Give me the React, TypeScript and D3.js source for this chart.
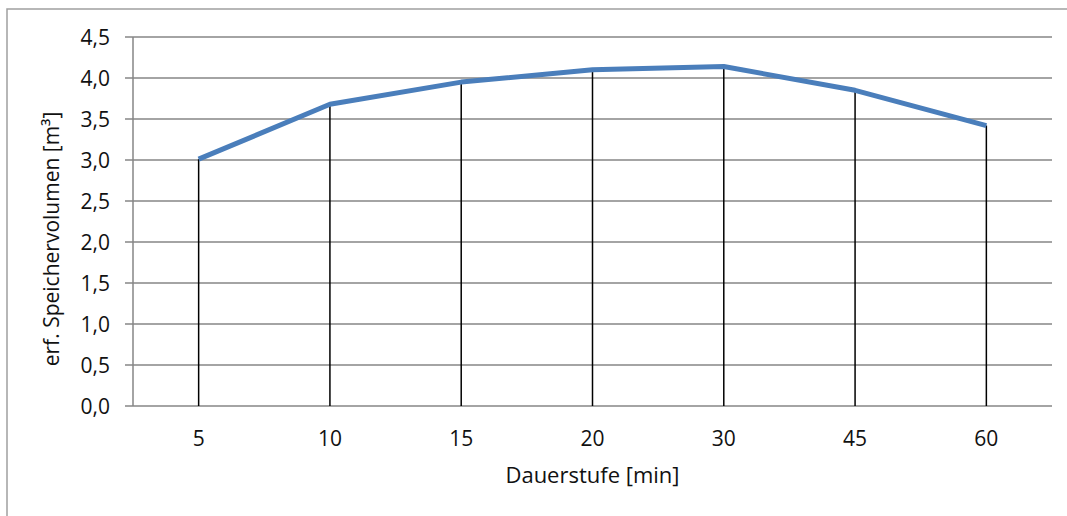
import React from "react";
import * as d3 from "d3";

const categories = ["5", "10", "15", "20", "30", "45", "60"];
const values = [3.01, 3.68, 3.95, 4.1, 4.14, 3.85, 3.42];
const yTicks = [0, 0.5, 1, 1.5, 2, 2.5, 3, 3.5, 4, 4.5];
const xTitle = "Dauerstufe [min]";
const yTitle = "erf. Speichervolumen [m³]";

const W = 1067;
const H = 516;
const plot = { left: 133, right: 1052, top: 37, bottom: 406 };
const FONT = "'Open Sans', sans-serif";
const FS = 21;

export default function App() {
  const x = d3
    .scaleBand<string>()
    .domain(categories)
    .range([plot.left, plot.right]);
  const y = d3.scaleLinear().domain([0, 4.5]).range([plot.bottom, plot.top]);
  const cx = (c: string) => (x(c) as number) + x.bandwidth() / 2;
  const line = d3
    .line<number>()
    .x((_, i) => cx(categories[i]))
    .y((d) => y(d));
  const fmt = (v: number) => v.toFixed(1).replace(".", ",");
  const grid = "#868686";

  return (
    <svg
      width={W}
      height={H}
      style={{ position: "absolute", left: 0, top: 0, background: "#fff" }}
    >
      <rect x={0} y={0} width={W} height={H} fill="#fff" />
      <path
        d={`M7,${H} L7,9 L${W + 5},9`}
        fill="none"
        stroke="#a0a0a0"
        strokeWidth={1.5}
      />
      {yTicks.map((t) => (
        <g key={t}>
          <line
            x1={plot.left - 8}
            x2={plot.right}
            y1={y(t)}
            y2={y(t)}
            stroke={grid}
            strokeWidth={1.5}
          />
          <text
            x={110}
            y={y(t)}
            dy="0.36em"
            textAnchor="end"
            fontFamily={FONT}
            fontSize={FS}
            fill="#111"
          >
            {fmt(t)}
          </text>
        </g>
      ))}
      <line
        x1={plot.left}
        x2={plot.left}
        y1={plot.top}
        y2={plot.bottom}
        stroke={grid}
        strokeWidth={1.5}
      />
      {categories.map((c, i) => (
        <g key={c}>
          <line
            x1={cx(c)}
            x2={cx(c)}
            y1={y(values[i])}
            y2={plot.bottom}
            stroke="#000"
            strokeWidth={1.5}
          />
          <text
            x={cx(c)}
            y={446}
            textAnchor="middle"
            fontFamily={FONT}
            fontSize={FS}
            fill="#111"
          >
            {c}
          </text>
        </g>
      ))}
      <path
        d={line(values) || ""}
        fill="none"
        stroke="#4a7ebb"
        strokeWidth={5}
        strokeLinejoin="round"
      />
      <text
        x={(plot.left + plot.right) / 2}
        y={483}
        textAnchor="middle"
        fontFamily={FONT}
        fontSize={22}
        fill="#111"
      >
        {xTitle}
      </text>
      <text
        transform={`translate(59,239) rotate(-90)`}
        textAnchor="middle"
        fontFamily={FONT}
        fontSize={FS}
        fill="#111"
      >
        {yTitle}
      </text>
    </svg>
  );
}
